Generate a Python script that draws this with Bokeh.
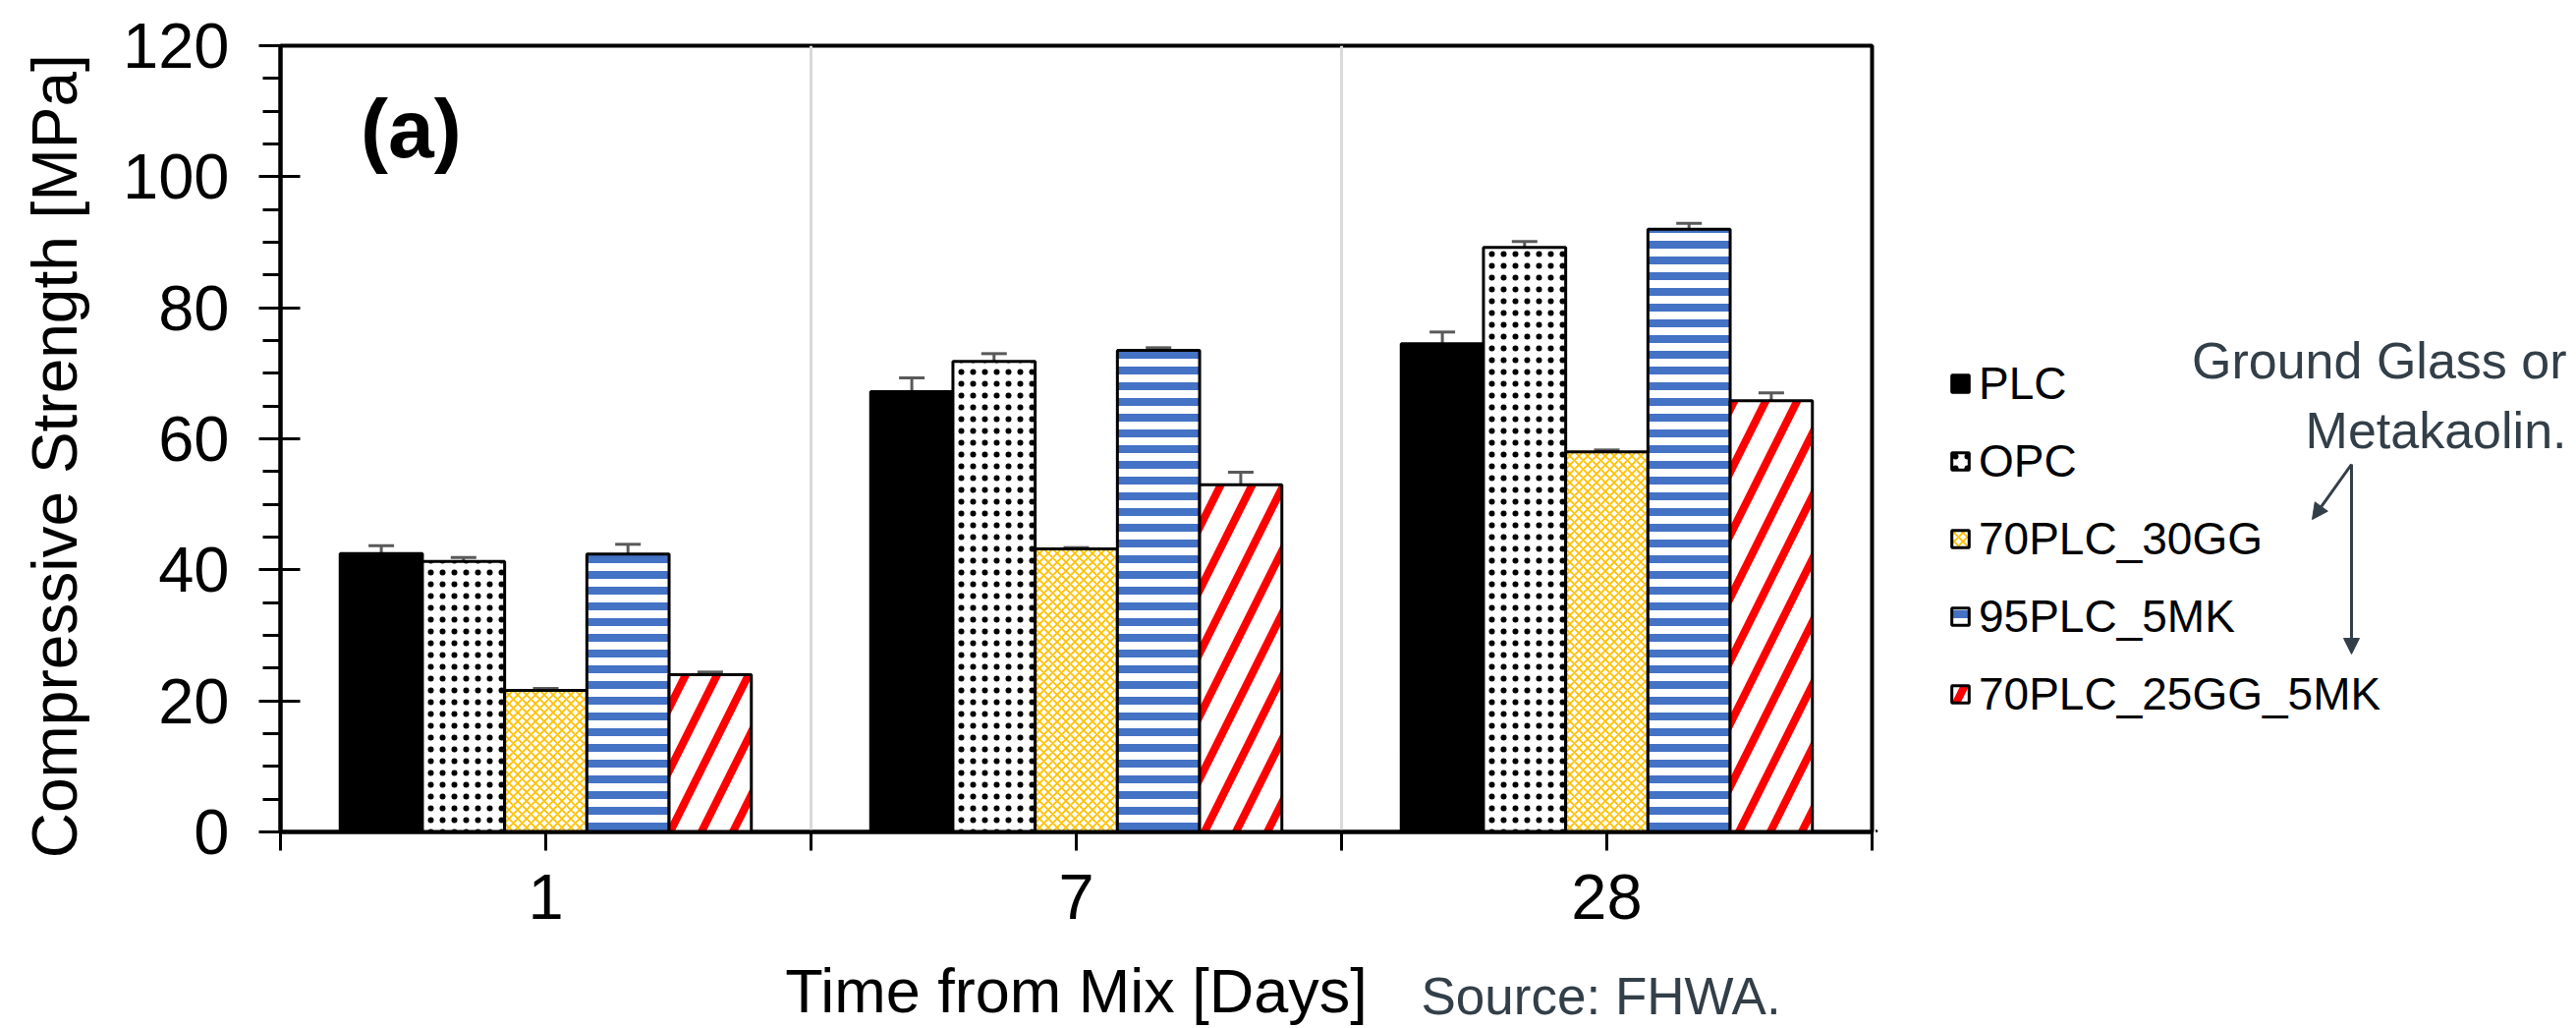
import math
from bokeh.plotting import figure
from bokeh.layouts import row, column
from bokeh.models import (Range1d, FixedTicker, Whisker, TeeHead, ColumnDataSource,
                          Legend, LegendItem, Label)
from bokeh.embed import file_html
from bokeh.resources import INLINE

# ---------------- data ----------------
days = ["1", "7", "28"]
mixes = ["PLC", "OPC", "70PLC_30GG", "95PLC_5MK", "70PLC_25GG_5MK"]
plc = [42.5, 67.2, 74.5]
opc = [41.3, 71.8, 89.2]
gg30 = [21.6, 43.2, 58.0]
mk5 = [42.4, 73.5, 92.0]
gg25_mk5 = [24.0, 53.0, 65.8]
plc_err = [1.2, 2.1, 1.8]
opc_err = [0.6, 1.2, 0.9]
gg30_err = [0.3, 0.2, 0.3]
mk5_err = [1.5, 0.4, 0.9]
gg25_mk5_err = [0.4, 1.9, 1.2]

values = [plc, opc, gg30, mk5, gg25_mk5]
errors = [plc_err, opc_err, gg30_err, mk5_err, gg25_mk5_err]

FONT = "Liberation Sans"
NOTE = "#333F48"
BW = 0.155

styles = [
    dict(fill_color="black"),
    dict(fill_color="white", hatch_pattern="dot", hatch_color="black", hatch_scale=12),
    dict(fill_color="white", hatch_pattern="diagonal_cross", hatch_color="#FFC000",
         hatch_scale=9, hatch_weight=1.8),
    dict(fill_color="white", hatch_pattern="horizontal_line", hatch_color="#4472C4",
         hatch_scale=16, hatch_weight=8),
    dict(fill_color="white", hatch_pattern="right_diagonal_line", hatch_color="#FF0000",
         hatch_scale=64, hatch_weight=8),
]

# page geometry (pixels)
W, H = 2616, 1044
TOP_H = 964                      # height of the chart row
FL, FR, FT, FB = 285, 1905, 46, 846
MAIN_W = FR + 4
SIDE_W = W - MAIN_W
BOT_H = H - TOP_H

# ---------------- main chart ----------------
p = figure(width=MAIN_W, height=TOP_H, x_range=Range1d(0, 3), y_range=Range1d(0, 120),
           output_backend="svg", toolbar_location=None,
           min_border_left=FL, min_border_right=MAIN_W - FR, min_border_top=FT,
           min_border_bottom=TOP_H - FB)
p.background_fill_color = "white"
p.border_fill_color = "white"
p.outline_line_color = "black"
p.outline_line_width = 4

for j, (name, vals, errs, st) in enumerate(zip(mixes, values, errors, styles)):
    xs = [i + 0.5 + (j - 2) * BW for i in range(len(days))]
    src = ColumnDataSource(dict(x=xs, top=vals,
                                upper=[v + e for v, e in zip(vals, errs)],
                                lower=[v - e for v, e in zip(vals, errs)]))
    p.vbar(x="x", top="top", bottom=0, width=BW, source=src,
           line_color="black", line_width=3, **st)
    p.add_layout(Whisker(source=src, base="x", upper="upper", lower="lower",
                         line_color="#595959", line_width=3,
                         upper_head=TeeHead(size=26, line_color="#595959", line_width=3),
                         lower_head=TeeHead(size=26, line_color="#595959", line_width=3)))

xa = p.xaxis[0]
xa.ticker = FixedTicker(ticks=[0, 0.5, 1, 1.5, 2, 2.5, 3])
ov = {float(i): "" for i in range(len(days) + 1)}
ov.update({i + 0.5: d for i, d in enumerate(days)})
xa.major_label_overrides = ov
xa.axis_line_width = 4
xa.major_tick_line_width = 3
xa.major_tick_in = 0
xa.major_tick_out = 19
xa.minor_tick_line_color = None
xa.major_label_standoff = 24

ya = p.yaxis[0]
ya.ticker = FixedTicker(ticks=list(range(0, 121, 20)), minor_ticks=list(range(0, 121, 5)))
# two trailing no-break spaces nudge the centred title slightly down, as in the original
ya.axis_label = "Compressive Strength [MPa]\u00a0\u00a0"
ya.axis_line_width = 4
ya.major_tick_line_width = 3
ya.minor_tick_line_width = 3
ya.major_tick_in = 20
ya.major_tick_out = 22
ya.minor_tick_in = 0
ya.minor_tick_out = 18
ya.major_label_standoff = 30
ya.axis_label_standoff = 30
ya.axis_label_text_font = FONT
ya.axis_label_text_font_size = "64px"
ya.axis_label_text_font_style = "normal"
ya.axis_label_text_color = "black"
ya.minor_tick_line_color = "black"

for ax in (xa, ya):
    ax.axis_line_color = "black"
    ax.major_tick_line_color = "black"
    ax.major_label_text_font = FONT
    ax.major_label_text_font_size = "65px"
    ax.major_label_text_color = "black"

p.ygrid.grid_line_color = None
p.xgrid.ticker = FixedTicker(ticks=[1, 2])
p.xgrid.grid_line_color = "#D9D9D9"
p.xgrid.grid_line_width = 3

p.add_layout(Label(x=0.246, y=107.4, text="(a)", text_font=FONT, text_font_size="84px",
                   text_font_style="bold", text_align="center", text_baseline="middle",
                   text_color="black"))

# ---------------- side panel: legend + note (frame aligned with main frame) ----------------
s = figure(width=SIDE_W, height=TOP_H, x_range=Range1d(MAIN_W, W), y_range=Range1d(0, FB - FT),
           output_backend="svg", toolbar_location=None,
           min_border_left=0, min_border_right=0, min_border_top=FT,
           min_border_bottom=TOP_H - FB,
           x_axis_location=None, y_axis_location=None)
s.grid.visible = False
s.outline_line_color = None
s.background_fill_color = "white"
s.border_fill_color = "white"

def sy(page_y):
    return FB - page_y

# legend swatch carriers (one off-view point each, same style as the bars)
items = []
for name, st in zip(mixes, styles):
    r = s.vbar(x=[-1e6], top=[1], width=1, line_color="black", line_width=3, **st)
    items.append(LegendItem(label=name, renderers=[r]))
LH, SP = 56, 23
leg_top = 390 - LH / 2
leg_bottom = leg_top + 5 * LH + 4 * SP
legend = Legend(items=items, location=(1984 - MAIN_W, FB - leg_bottom), orientation="vertical",
                label_text_font=FONT, label_text_font_size="46px", label_text_color="black",
                glyph_width=22, glyph_height=22, label_height=LH, label_standoff=8,
                spacing=SP, padding=0, margin=0,
                border_line_alpha=0, background_fill_alpha=0)
s.add_layout(legend)

s.add_layout(Label(x=2612, y=sy(366), text="Ground Glass or", text_font=FONT,
                   text_font_size="52px", text_align="right", text_baseline="middle",
                   text_color=NOTE))
s.add_layout(Label(x=2612, y=sy(437), text="Metakaolin.", text_font=FONT,
                   text_font_size="52px", text_align="right", text_baseline="middle",
                   text_color=NOTE))

# arrows: shaft + triangular head
start = (2393, 472)
tips = [(2353, 528), (2393, 665)]
HEAD_L, HEAD_HW = 16, 8
x0s, y0s, x1s, y1s, hxs, hys = [], [], [], [], [], []
for tx, ty in tips:
    dx, dy = tx - start[0], ty - start[1]
    n = math.hypot(dx, dy)
    ux, uy = dx / n, dy / n
    bx, by = tx - ux * HEAD_L, ty - uy * HEAD_L
    x0s.append(start[0]); y0s.append(sy(start[1])); x1s.append(bx); y1s.append(sy(by))
    hxs.append([tx, bx - uy * HEAD_HW, bx + uy * HEAD_HW])
    hys.append([sy(ty), sy(by + ux * HEAD_HW), sy(by - ux * HEAD_HW)])
s.segment(x0=x0s, y0=y0s, x1=x1s, y1=y1s, line_color=NOTE, line_width=3)
s.patches(xs=hxs, ys=hys, fill_color=NOTE, line_color=NOTE, line_width=1)

# ---------------- bottom strip: x-axis title + source ----------------
b = figure(width=W, height=BOT_H, x_range=Range1d(0, W), y_range=Range1d(0, BOT_H),
           output_backend="svg", toolbar_location=None, min_border=0,
           x_axis_location=None, y_axis_location=None)
b.grid.visible = False
b.outline_line_color = None
b.background_fill_color = "white"
b.border_fill_color = "white"

def by_(page_y):
    return H - page_y

b.add_layout(Label(x=(FL + FR) / 2, y=by_(1007), text="Time from Mix [Days]", text_font=FONT,
                   text_font_size="63px", text_align="center", text_baseline="middle",
                   text_color="black"))
b.add_layout(Label(x=1446, y=by_(1013), text="Source: FHWA.", text_font=FONT,
                   text_font_size="53px", text_align="left", text_baseline="middle",
                   text_color=NOTE))

layout = column(row(p, s, spacing=0), b, spacing=0)
open("out.html", "w").write(file_html(layout, INLINE))
